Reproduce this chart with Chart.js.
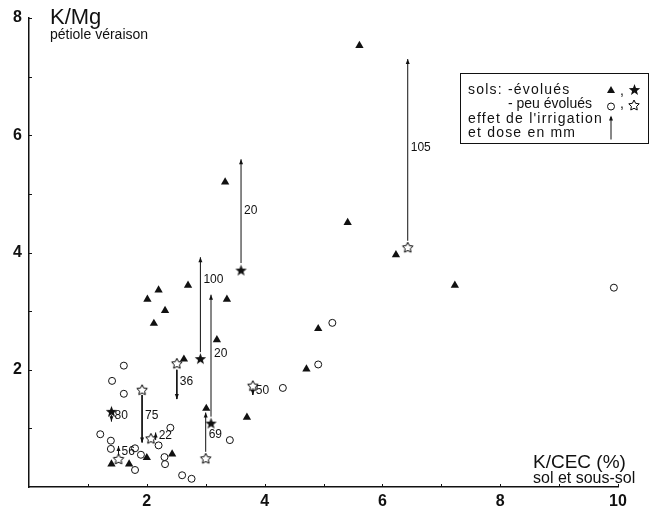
<!DOCTYPE html>
<html>
<head>
<meta charset="utf-8">
<script src="https://cdn.jsdelivr.net/npm/chart.js@4/dist/chart.umd.min.js"></script>
<style>
	html, body { margin: 0; padding: 0; background: #fff; }
	#kmg-chart { display: block; }
</style>
</head>
<body>
<canvas id="kmg-chart" width="651" height="512"></canvas>
<script>
// K/CEC (%) sol et sous-sol  vs  K/Mg pétiole véraison
const solsEvolues = [
	[2.01, 3.20], [2.20, 3.36], [2.12, 2.79], [2.31, 3.01], [2.70, 3.44],
	[3.36, 3.20], [3.19, 2.51], [2.63, 2.18], [3.01, 1.34], [3.70, 1.19],
	[4.71, 2.01], [4.91, 2.70], [1.40, 0.39], [1.70, 0.39], [2.00, 0.50],
	[2.43, 0.56], [3.33, 5.20], [5.61, 7.53], [5.41, 4.51], [6.23, 3.96],
	[7.23, 3.44],
];
const solsEvoluesIrrigues = [[3.60, 3.70], [2.91, 2.19], [3.09, 1.09], [1.40, 1.29]];
const solsPeuEvolues = [
	[1.61, 2.07], [1.41, 1.81], [1.61, 1.59], [1.21, 0.90], [1.39, 0.79],
	[1.39, 0.65], [1.80, 0.66], [1.90, 0.55], [1.80, 0.29], [2.20, 0.71],
	[2.40, 1.01], [2.30, 0.51], [2.31, 0.39], [2.60, 0.20], [2.76, 0.14],
	[3.41, 0.80], [4.31, 1.69], [4.91, 2.09], [5.15, 2.80], [9.93, 3.40],
];
const solsPeuEvoluesIrrigues = [
	[6.43, 4.09], [2.51, 2.11], [1.92, 1.66], [3.80, 1.73], [2.07, 0.83],
	[1.52, 0.48], [3.00, 0.49],
];

// irrigation effect: arrow x, start, end, dose (mm), label height
const doseX = [3.60, 6.43, 2.91, 3.09, 2.51, 1.92, 3.00, 3.80, 1.40, 1.52, 2.15];
const doseFrom = [3.82, 4.20, 2.30, 1.20, 2.00, 1.57, 0.60, 1.65, 1.22, 0.55, 0.80];
const doseTo = [5.59, 7.30, 3.92, 3.28, 1.50, 0.76, 1.27, 1.57, 1.12, 0.70, 0.93];
const doseMm = ["20", "105", "100", "20", "36", "75", "69", "50", "80", "56", "22"];
const doseLabelY = [4.71, 5.78, 3.53, 2.27, 1.80, 1.22, 0.89, 1.64, 1.21, 0.60, 0.88];

const xTickLabels = [2, 4, 6, 8, 10];
const yTickLabels = [2, 4, 6, 8];

const INK = "#111";
const FONT = "'Liberation Sans', Arial, sans-serif";

function starImage(filled, r) {
	const size = Math.ceil(r * 2 + 3);
	const c = document.createElement("canvas");
	c.width = c.height = size;
	const g = c.getContext("2d");
	const cx = size / 2;
	const cy = size / 2 + r * 0.1;
	g.beginPath();
	for (let k = 0; k < 10; k++) {
		const rad = k % 2 ? r * (filled ? 0.42 : 0.5) : r;
		const a = -Math.PI / 2 + (k * Math.PI) / 5;
		g.lineTo(cx + rad * Math.cos(a), cy + rad * Math.sin(a));
	}
	g.closePath();
	if (filled) {
		g.fillStyle = INK;
		g.fill();
	} else {
		g.fillStyle = "#fff";
		g.fill();
		g.lineWidth = 1;
		g.strokeStyle = "#000";
		g.stroke();
	}
	return c;
}

const filledStar = starImage(true, 6);
const openStar = starImage(false, 5.5);

const toPoints = (list) => list.map(([x, y]) => ({ x, y }));

function arrowDatasets() {
	return doseX.map((x, i) => ({
		label: "dose " + doseMm[i],
		data: [{ x, y: doseFrom[i] }, { x, y: doseTo[i] }],
		showLine: true,
		borderColor: INK,
		borderWidth: 1,
		pointRadius: 0,
		order: 10,
	}));
}

function line(ctx, x1, y1, x2, y2) {
	ctx.beginPath();
	ctx.moveTo(x1, y1);
	ctx.lineTo(x2, y2);
	ctx.stroke();
}

const decorPlugin = {
	id: "decor",
	afterDatasetsDraw(chart) {
		const { ctx, chartArea } = chart;
		const xs = chart.scales.x;
		const ys = chart.scales.y;
		ctx.save();
		ctx.strokeStyle = INK;
		ctx.fillStyle = INK;
		ctx.lineWidth = 1;

		// small inward ticks
		xs.ticks.forEach((t) => {
			if (t.value === 0) return;
			const px = Math.round(xs.getPixelForValue(t.value)) + 0.5;
			line(ctx, px, chartArea.bottom, px, chartArea.bottom - 3);
		});
		ys.ticks.forEach((t) => {
			if (t.value === 0) return;
			const py = Math.round(ys.getPixelForValue(t.value)) + 0.5;
			line(ctx, chartArea.left, py, chartArea.left + 3, py);
		});

		// arrow heads and doses
		ctx.font = "12px " + FONT;
		ctx.textBaseline = "middle";
		doseMm.forEach((dose, i) => {
			const px = xs.getPixelForValue(doseX[i]);
			const tip = ys.getPixelForValue(doseTo[i]);
			const dir = doseTo[i] > doseFrom[i] ? 1 : -1;
			ctx.beginPath();
			ctx.moveTo(px, tip);
			ctx.lineTo(px - 2, tip + dir * 5);
			ctx.lineTo(px + 2, tip + dir * 5);
			ctx.closePath();
			ctx.fill();
			ctx.fillText(dose, px + 3, ys.getPixelForValue(doseLabelY[i]));
		});

		// axis titles
		ctx.textBaseline = "alphabetic";
		ctx.font = "22px " + FONT;
		ctx.fillText("K/Mg", 50, 24);
		ctx.font = "14px " + FONT;
		ctx.fillText("pétiole véraison", 50, 39);
		ctx.font = "19px " + FONT;
		ctx.fillText("K/CEC (%)", 533, 468);
		ctx.font = "16px " + FONT;
		ctx.fillText("sol et sous-sol", 533, 483);

		// legend
		ctx.strokeRect(460.5, 73.5, 188, 70);
		ctx.font = "14px " + FONT;
		ctx.letterSpacing = "1.2px";
		ctx.fillText("sols: -évolués", 468, 94);
		ctx.fillText("effet de l'irrigation", 468, 122.5);
		ctx.fillText("et dose en mm", 468, 137);
		ctx.letterSpacing = "0px";
		ctx.fillText("- peu évolués", 508, 108);
		ctx.fillText(",", 620, 95);
		ctx.fillText(",", 620, 108);

		ctx.beginPath();
		ctx.moveTo(611, 86);
		ctx.lineTo(615, 93);
		ctx.lineTo(607, 93);
		ctx.closePath();
		ctx.fill();
		ctx.drawImage(filledStar, Math.round(634 - filledStar.width / 2), Math.round(89 - filledStar.height / 2));
		ctx.beginPath();
		ctx.arc(611, 106.5, 3.5, 0, Math.PI * 2);
		ctx.stroke();
		ctx.drawImage(openStar, Math.round(634 - openStar.width / 2), Math.round(105 - openStar.height / 2));
		line(ctx, 611, 139.5, 611, 117);
		ctx.beginPath();
		ctx.moveTo(611, 115.5);
		ctx.lineTo(609, 120.5);
		ctx.lineTo(613, 120.5);
		ctx.closePath();
		ctx.fill();

		ctx.restore();
	},
};

new Chart(document.getElementById("kmg-chart"), {
	type: "scatter",
	data: {
		datasets: [
			{
				label: "sols évolués",
				data: toPoints(solsEvolues),
				pointStyle: "triangle",
				pointRadius: 4.8,
				backgroundColor: INK,
				borderColor: INK,
				borderWidth: 0,
			},
			{
				label: "sols évolués irrigués",
				data: toPoints(solsEvoluesIrrigues),
				pointStyle: filledStar,
			},
			{
				label: "sols peu évolués",
				data: toPoints(solsPeuEvolues),
				pointStyle: "circle",
				pointRadius: 3.5,
				backgroundColor: "#fff",
				borderColor: INK,
				borderWidth: 1,
			},
			{
				label: "sols peu évolués irrigués",
				data: toPoints(solsPeuEvoluesIrrigues),
				pointStyle: openStar,
			},
			...arrowDatasets(),
		],
	},
	options: {
		responsive: false,
		animation: false,
		events: [],
		layout: {
			padding: { top: 18, right: 33, left: 0, bottom: 0 },
		},
		plugins: {
			legend: { display: false },
			tooltip: { enabled: false },
		},
		scales: {
			x: {
				type: "linear",
				min: 0,
				max: 10,
				grid: { display: false, drawTicks: false },
				border: { display: true, color: INK, width: 1.5 },
				ticks: {
					stepSize: 1,
					autoSkip: false,
					maxRotation: 0,
					padding: 5,
					color: INK,
					font: { family: FONT, size: 16, weight: "bold" },
					callback: (v) => (xTickLabels.includes(v) ? String(v) : ""),
				},
				afterFit: (scale) => {
					scale.height = 25;
				},
			},
			y: {
				type: "linear",
				min: 0,
				max: 8,
				grid: { display: false, drawTicks: false },
				border: { display: true, color: INK, width: 1.5 },
				ticks: {
					stepSize: 1,
					autoSkip: false,
					padding: 7,
					color: INK,
					font: { family: FONT, size: 16, weight: "bold" },
					callback: (v) => (yTickLabels.includes(v) ? String(v) : ""),
				},
				afterFit: (scale) => {
					scale.width = 29;
				},
			},
		},
	},
	plugins: [decorPlugin],
});
</script>
</body>
</html>
